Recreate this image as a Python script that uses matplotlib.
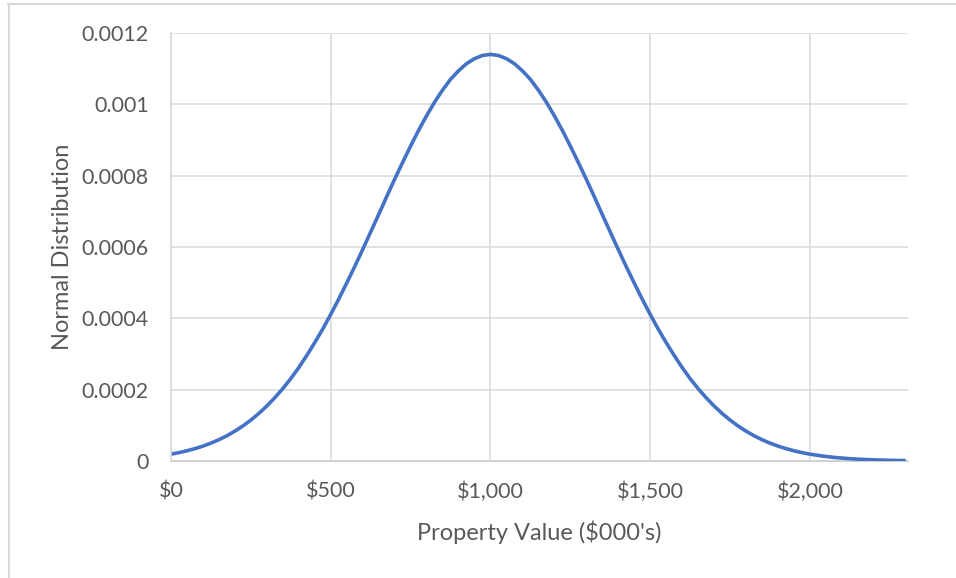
import matplotlib
matplotlib.use("Agg")
import matplotlib.pyplot as plt
from matplotlib.lines import Line2D
from matplotlib.ticker import FuncFormatter

# Property value ($000's) and normal-distribution density
property_value = [0, 25, 50, 75, 100, 125, 150, 175, 200, 225, 250, 275, 300, 325,
                  350, 375, 400, 425, 450, 475, 500, 525, 550, 575, 600, 625, 650,
                  675, 700, 725, 750, 775, 800, 825, 850, 875, 900, 925, 950, 975,
                  1000, 1025, 1050, 1075, 1100, 1125, 1150, 1175, 1200, 1225, 1250,
                  1275, 1300, 1325, 1350, 1375, 1400, 1425, 1450, 1475, 1500, 1525,
                  1550, 1575, 1600, 1625, 1650, 1675, 1700, 1725, 1750, 1775, 1800,
                  1825, 1850, 1875, 1900, 1925, 1950, 1975, 2000, 2025, 2050, 2075,
                  2100, 2125, 2150, 2175, 2200, 2225, 2250, 2275, 2300]
density = [0.0000192, 0.0000235, 0.0000287, 0.0000347, 0.0000418, 0.0000501,
           0.0000597, 0.0000709, 0.0000837, 0.0000982, 0.0001148, 0.0001334,
           0.0001543, 0.0001775, 0.000203, 0.000231, 0.000262, 0.000296, 0.000332,
           0.000370, 0.000411, 0.000454, 0.000499, 0.000545, 0.000593, 0.000642,
           0.000691, 0.000741, 0.000790, 0.000837, 0.000883, 0.000927, 0.000968,
           0.001006, 0.00104, 0.001070, 0.001094, 0.001114, 0.001128, 0.001137,
           0.00114,
           0.001137, 0.001128, 0.001114, 0.001094, 0.001070, 0.00104, 0.001006,
           0.000968, 0.000927, 0.000883, 0.000837, 0.000790, 0.000741, 0.000691,
           0.000642, 0.000593, 0.000545, 0.000499, 0.000454, 0.000411, 0.000370,
           0.000332, 0.000296, 0.000262, 0.000231, 0.000203, 0.0001775, 0.0001543,
           0.0001334, 0.0001148, 0.0000982, 0.0000837, 0.0000709, 0.0000597,
           0.0000501, 0.0000418, 0.0000347, 0.0000287, 0.0000235, 0.0000192,
           0.0000157, 0.0000127, 0.0000102, 0.0000082, 0.0000065, 0.0000052,
           0.0000041, 0.0000032, 0.0000025, 0.0000019, 0.0000015, 0.0000012]
x_ticks = [0, 500, 1000, 1500, 2000]
y_ticks = [0, 0.0002, 0.0004, 0.0006, 0.0008, 0.001, 0.0012]
y_tick_labels = ["0", "0.0002", "0.0004", "0.0006", "0.0008", "0.001", "0.0012"]

plt.rcParams['font.family'] = ['Lato', 'DejaVu Sans']
text_color = "#595959"

fig = plt.figure(figsize=(9.56, 5.78), dpi=100)
ax = fig.add_axes([171/956, 1 - 461/578, (908 - 171)/956, (461 - 33)/578])

ax.plot(property_value, density, color="#4472C4", linewidth=2.6,
        solid_capstyle="butt", solid_joinstyle="round")

ax.set_xlim(0, 2307)
ax.set_ylim(0, 0.0012)
ax.set_xticks(x_ticks)
ax.xaxis.set_major_formatter(FuncFormatter(lambda v, p: "${:,.0f}".format(v)))
ax.set_yticks(y_ticks)
ax.set_yticklabels(y_tick_labels)
ax.grid(True, color="#D9D9D9", linewidth=1.1)
ax.set_axisbelow(True)
for s in ["top", "right"]:
    ax.spines[s].set_visible(False)
ax.spines["left"].set_color("#D9D9D9")
ax.spines["left"].set_linewidth(1.1)
ax.spines["bottom"].set_color("#BFBFBF")
ax.spines["bottom"].set_linewidth(1.1)
ax.spines["bottom"].set_zorder(0.5)
ax.tick_params(axis="both", length=0, labelsize=15.5, colors=text_color)
ax.tick_params(axis="x", pad=15)
ax.tick_params(axis="y", pad=16)

ax.set_xlabel("Property Value ($000's)", fontsize=17, color=text_color, labelpad=13)
ax.set_ylabel("Normal Distribution", fontsize=17, color=text_color, labelpad=6)

# outer chart border (top and left visible)
fig.add_artist(Line2D([8/956, 1.0], [1 - 3.5/578, 1 - 3.5/578], transform=fig.transFigure,
                      color="#D9D9D9", linewidth=1.5))
fig.add_artist(Line2D([8.5/956, 8.5/956], [0, 1 - 3.5/578], transform=fig.transFigure,
                      color="#D9D9D9", linewidth=1.5))

fig.savefig("out.png", dpi=100, facecolor="white")
